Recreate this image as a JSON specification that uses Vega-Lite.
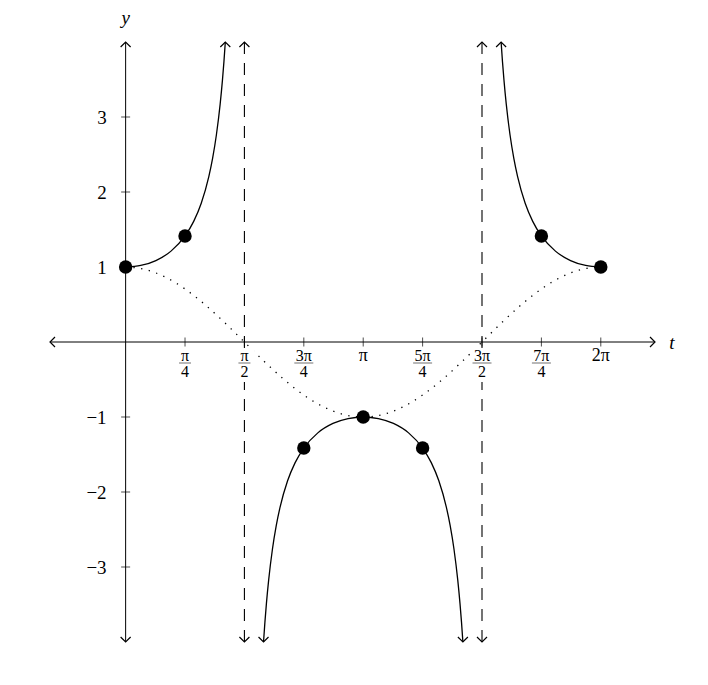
{
  "$schema": "https://vega.github.io/schema/vega-lite/v6.json",
  "width": 605,
  "height": 600,
  "autosize": {"type": "none"},
  "padding": {"left": 50, "top": 42, "right": 53, "bottom": 43},
  "background": "white",
  "config": {"view": {"stroke": null}, "axis": {"disable": true}},
  "datasets": {
    "axes": [
      {"t": -1, "t2": 7, "y": 0, "y2": 0},
      {"t": 0, "t2": 0, "y": -4, "y2": 4}
    ],
    "asym": [
      {"t": 1.5708, "y": -4, "y2": 4},
      {"t": 4.7124, "y": -4, "y2": 4}
    ],
    "cosine": [
      {"t": 0, "y": 1}, {"t": 0.2618, "y": 0.9659}, {"t": 0.5236, "y": 0.866},
      {"t": 0.7854, "y": 0.7071}, {"t": 1.0472, "y": 0.5}, {"t": 1.309, "y": 0.2588},
      {"t": 1.5708, "y": 0}, {"t": 1.8326, "y": -0.2588}, {"t": 2.0944, "y": -0.5},
      {"t": 2.3562, "y": -0.7071}, {"t": 2.618, "y": -0.866}, {"t": 2.8798, "y": -0.9659},
      {"t": 3.1416, "y": -1}, {"t": 3.4034, "y": -0.9659}, {"t": 3.6652, "y": -0.866},
      {"t": 3.927, "y": -0.7071}, {"t": 4.1888, "y": -0.5}, {"t": 4.4506, "y": -0.2588},
      {"t": 4.7124, "y": 0}, {"t": 4.9742, "y": 0.2588}, {"t": 5.236, "y": 0.5},
      {"t": 5.4978, "y": 0.7071}, {"t": 5.7596, "y": 0.866}, {"t": 6.0214, "y": 0.9659},
      {"t": 6.2832, "y": 1}
    ],
    "secant": [
      {"seg": "a", "t": 0, "y": 1}, {"seg": "a", "t": 0.2, "y": 1.0203},
      {"seg": "a", "t": 0.4, "y": 1.0857}, {"seg": "a", "t": 0.6, "y": 1.2116},
      {"seg": "a", "t": 0.7854, "y": 1.4142}, {"seg": "a", "t": 0.9, "y": 1.6087},
      {"seg": "a", "t": 1.0, "y": 1.8508}, {"seg": "a", "t": 1.1, "y": 2.2046},
      {"seg": "a", "t": 1.15, "y": 2.4481}, {"seg": "a", "t": 1.2, "y": 2.7597},
      {"seg": "a", "t": 1.25, "y": 3.1714}, {"seg": "a", "t": 1.28, "y": 3.4877},
      {"seg": "a", "t": 1.3, "y": 3.7383}, {"seg": "a", "t": 1.3181, "y": 4},
      {"seg": "b", "t": 1.8235, "y": -4}, {"seg": "b", "t": 1.8416, "y": -3.7383},
      {"seg": "b", "t": 1.8616, "y": -3.4877}, {"seg": "b", "t": 1.8916, "y": -3.1714},
      {"seg": "b", "t": 1.9416, "y": -2.7597}, {"seg": "b", "t": 1.9916, "y": -2.4481},
      {"seg": "b", "t": 2.0416, "y": -2.2046}, {"seg": "b", "t": 2.1416, "y": -1.8508},
      {"seg": "b", "t": 2.2416, "y": -1.6087}, {"seg": "b", "t": 2.3562, "y": -1.4142},
      {"seg": "b", "t": 2.5416, "y": -1.2116}, {"seg": "b", "t": 2.7416, "y": -1.0857},
      {"seg": "b", "t": 2.9416, "y": -1.0203}, {"seg": "b", "t": 3.1416, "y": -1},
      {"seg": "b", "t": 3.3416, "y": -1.0203}, {"seg": "b", "t": 3.5416, "y": -1.0857},
      {"seg": "b", "t": 3.7416, "y": -1.2116}, {"seg": "b", "t": 3.927, "y": -1.4142},
      {"seg": "b", "t": 4.0416, "y": -1.6087}, {"seg": "b", "t": 4.1416, "y": -1.8508},
      {"seg": "b", "t": 4.2416, "y": -2.2046}, {"seg": "b", "t": 4.2916, "y": -2.4481},
      {"seg": "b", "t": 4.3416, "y": -2.7597}, {"seg": "b", "t": 4.3916, "y": -3.1714},
      {"seg": "b", "t": 4.4216, "y": -3.4877}, {"seg": "b", "t": 4.4416, "y": -3.7383},
      {"seg": "b", "t": 4.4597, "y": -4},
      {"seg": "c", "t": 4.9651, "y": 4}, {"seg": "c", "t": 4.9832, "y": 3.7383},
      {"seg": "c", "t": 5.0032, "y": 3.4877}, {"seg": "c", "t": 5.0332, "y": 3.1714},
      {"seg": "c", "t": 5.0832, "y": 2.7597}, {"seg": "c", "t": 5.1332, "y": 2.4481},
      {"seg": "c", "t": 5.1832, "y": 2.2046}, {"seg": "c", "t": 5.2832, "y": 1.8508},
      {"seg": "c", "t": 5.3832, "y": 1.6087}, {"seg": "c", "t": 5.4978, "y": 1.4142},
      {"seg": "c", "t": 5.6832, "y": 1.2116}, {"seg": "c", "t": 5.8832, "y": 1.0857},
      {"seg": "c", "t": 6.0832, "y": 1.0203}, {"seg": "c", "t": 6.2832, "y": 1}
    ],
    "dots": [
      {"t": 0, "y": 1}, {"t": 0.7854, "y": 1.4142}, {"t": 2.3562, "y": -1.4142},
      {"t": 3.1416, "y": -1}, {"t": 3.927, "y": -1.4142}, {"t": 5.4978, "y": 1.4142},
      {"t": 6.2832, "y": 1}
    ],
    "xticks": [
      {"t": 0.7854, "y": 0}, {"t": 1.5708, "y": 0}, {"t": 2.3562, "y": 0},
      {"t": 3.1416, "y": 0}, {"t": 3.927, "y": 0}, {"t": 4.7124, "y": 0},
      {"t": 5.4978, "y": 0}, {"t": 6.2832, "y": 0}
    ],
    "yticks": [
      {"t": 0, "y": 3, "label": "3"}, {"t": 0, "y": 2, "label": "2"}, {"t": 0, "y": 1, "label": "1"},
      {"t": 0, "y": -1, "label": "−1"}, {"t": 0, "y": -2, "label": "−2"}, {"t": 0, "y": -3, "label": "−3"}
    ],
    "fracs": [
      {"t": 0.7854, "y": 0, "num": "π", "den": "4"},
      {"t": 1.5708, "y": 0, "num": "π", "den": "2"},
      {"t": 2.3562, "y": 0, "num": "3π", "den": "4"},
      {"t": 3.927, "y": 0, "num": "5π", "den": "4"},
      {"t": 4.7124, "y": 0, "num": "3π", "den": "2"},
      {"t": 5.4978, "y": 0, "num": "7π", "den": "4"}
    ],
    "singles": [
      {"t": 3.1416, "y": 0, "label": "π"},
      {"t": 6.2832, "y": 0, "label": "2π"}
    ],
    "masks": [
      {"t": 1.5708, "y": 0}, {"t": 4.7124, "y": 0}
    ],
    "up": [
      {"t": 0, "y": 4}, {"t": 1.5708, "y": 4}, {"t": 4.7124, "y": 4},
      {"t": 1.3181, "y": 4}, {"t": 4.9651, "y": 4}
    ],
    "down": [
      {"t": 0, "y": -4}, {"t": 1.5708, "y": -4}, {"t": 4.7124, "y": -4},
      {"t": 1.8235, "y": -4}, {"t": 4.4597, "y": -4}
    ],
    "left": [{"t": -1, "y": 0}],
    "right": [{"t": 7, "y": 0}],
    "titles": [
      {"t": 7, "y": 0, "label": "t", "side": "x"},
      {"t": 0, "y": 4, "label": "y", "side": "y"}
    ]
  },
  "encoding": {
    "x": {"field": "t", "type": "quantitative", "axis": null,
          "scale": {"domain": [-1, 7], "nice": false, "zero": false}},
    "y": {"field": "y", "type": "quantitative", "axis": null,
          "scale": {"domain": [-4, 4], "nice": false, "zero": false}}
  },
  "layer": [
    {
      "data": {"name": "axes"},
      "mark": {"type": "rule", "color": "black", "strokeWidth": 1},
      "encoding": {"x2": {"field": "t2"}, "y2": {"field": "y2"}}
    },
    {
      "data": {"name": "asym"},
      "mark": {"type": "rule", "color": "black", "strokeWidth": 1.1, "strokeDash": [12, 9]},
      "encoding": {"y2": {"field": "y2"}}
    },
    {
      "data": {"name": "cosine"},
      "mark": {"type": "line", "color": "black", "strokeWidth": 1.3,
               "strokeDash": [1.3, 6.5], "interpolate": "monotone"}
    },
    {
      "data": {"name": "secant"},
      "mark": {"type": "line", "color": "black", "strokeWidth": 1.3, "interpolate": "monotone"},
      "encoding": {"detail": {"field": "seg"}}
    },
    {
      "data": {"name": "masks"},
      "mark": {"type": "point", "shape": "M-0.6,-1L0.6,-1L0.6,1L-0.6,1Z", "size": 1156,
               "filled": true, "fill": "white", "opacity": 1, "strokeWidth": 0, "yOffset": 23}
    },
    {
      "data": {"name": "xticks"},
      "mark": {"type": "tick", "orient": "vertical", "size": 9, "thickness": 1, "color": "black"}
    },
    {
      "data": {"name": "yticks"},
      "mark": {"type": "tick", "orient": "horizontal", "size": 9, "thickness": 1, "color": "black"}
    },
    {
      "data": {"name": "yticks"},
      "mark": {"type": "text", "align": "right", "baseline": "middle", "dx": -19, "dy": 1,
               "font": "Liberation Serif, Times New Roman, serif", "fontSize": 19, "color": "black"},
      "encoding": {"text": {"field": "label"}}
    },
    {
      "data": {"name": "fracs"},
      "mark": {"type": "text", "align": "center", "baseline": "middle", "dy": 14,
               "font": "Liberation Serif, Times New Roman, serif", "fontSize": 16, "color": "black"},
      "encoding": {"text": {"field": "num"}}
    },
    {
      "data": {"name": "fracs"},
      "mark": {"type": "text", "align": "center", "baseline": "middle", "dy": 30,
               "font": "Liberation Serif, Times New Roman, serif", "fontSize": 16, "color": "black"},
      "encoding": {"text": {"field": "den"}}
    },
    {
      "data": {"name": "fracs"},
      "transform": [{"filter": "length(datum.num) == 1"}],
      "mark": {"type": "tick", "orient": "horizontal", "size": 12, "thickness": 0.8,
               "color": "black", "yOffset": 21}
    },
    {
      "data": {"name": "fracs"},
      "transform": [{"filter": "length(datum.num) > 1"}],
      "mark": {"type": "tick", "orient": "horizontal", "size": 19, "thickness": 0.8,
               "color": "black", "yOffset": 21}
    },
    {
      "data": {"name": "singles"},
      "mark": {"type": "text", "align": "center", "baseline": "middle", "dy": 14,
               "font": "Liberation Serif, Times New Roman, serif", "fontSize": 18, "color": "black"},
      "encoding": {"text": {"field": "label"}}
    },
    {
      "data": {"name": "titles"},
      "transform": [{"filter": "datum.side == 'x'"}],
      "mark": {"type": "text", "align": "center", "baseline": "middle", "dx": 17, "dy": 1,
               "font": "Liberation Serif, Times New Roman, serif", "fontStyle": "italic", "fontSize": 19, "color": "black"},
      "encoding": {"text": {"field": "label"}}
    },
    {
      "data": {"name": "titles"},
      "transform": [{"filter": "datum.side == 'y'"}],
      "mark": {"type": "text", "align": "center", "baseline": "middle", "dy": -24,
               "font": "Liberation Serif, Times New Roman, serif", "fontStyle": "italic", "fontSize": 19, "color": "black"},
      "encoding": {"text": {"field": "label"}}
    },
    {
      "data": {"name": "dots"},
      "mark": {"type": "circle", "size": 180, "color": "black", "opacity": 1}
    },
    {
      "data": {"name": "up"},
      "mark": {"type": "point", "shape": "M-1,1L0,0L1,1", "size": 100, "filled": false,
               "stroke": "black", "strokeWidth": 1.2, "opacity": 1}
    },
    {
      "data": {"name": "down"},
      "mark": {"type": "point", "shape": "M-1,-1L0,0L1,-1", "size": 100, "filled": false,
               "stroke": "black", "strokeWidth": 1.2, "opacity": 1}
    },
    {
      "data": {"name": "left"},
      "mark": {"type": "point", "shape": "M1,-1L0,0L1,1", "size": 100, "filled": false,
               "stroke": "black", "strokeWidth": 1.2, "opacity": 1}
    },
    {
      "data": {"name": "right"},
      "mark": {"type": "point", "shape": "M-1,-1L0,0L-1,1", "size": 100, "filled": false,
               "stroke": "black", "strokeWidth": 1.2, "opacity": 1}
    }
  ]
}
